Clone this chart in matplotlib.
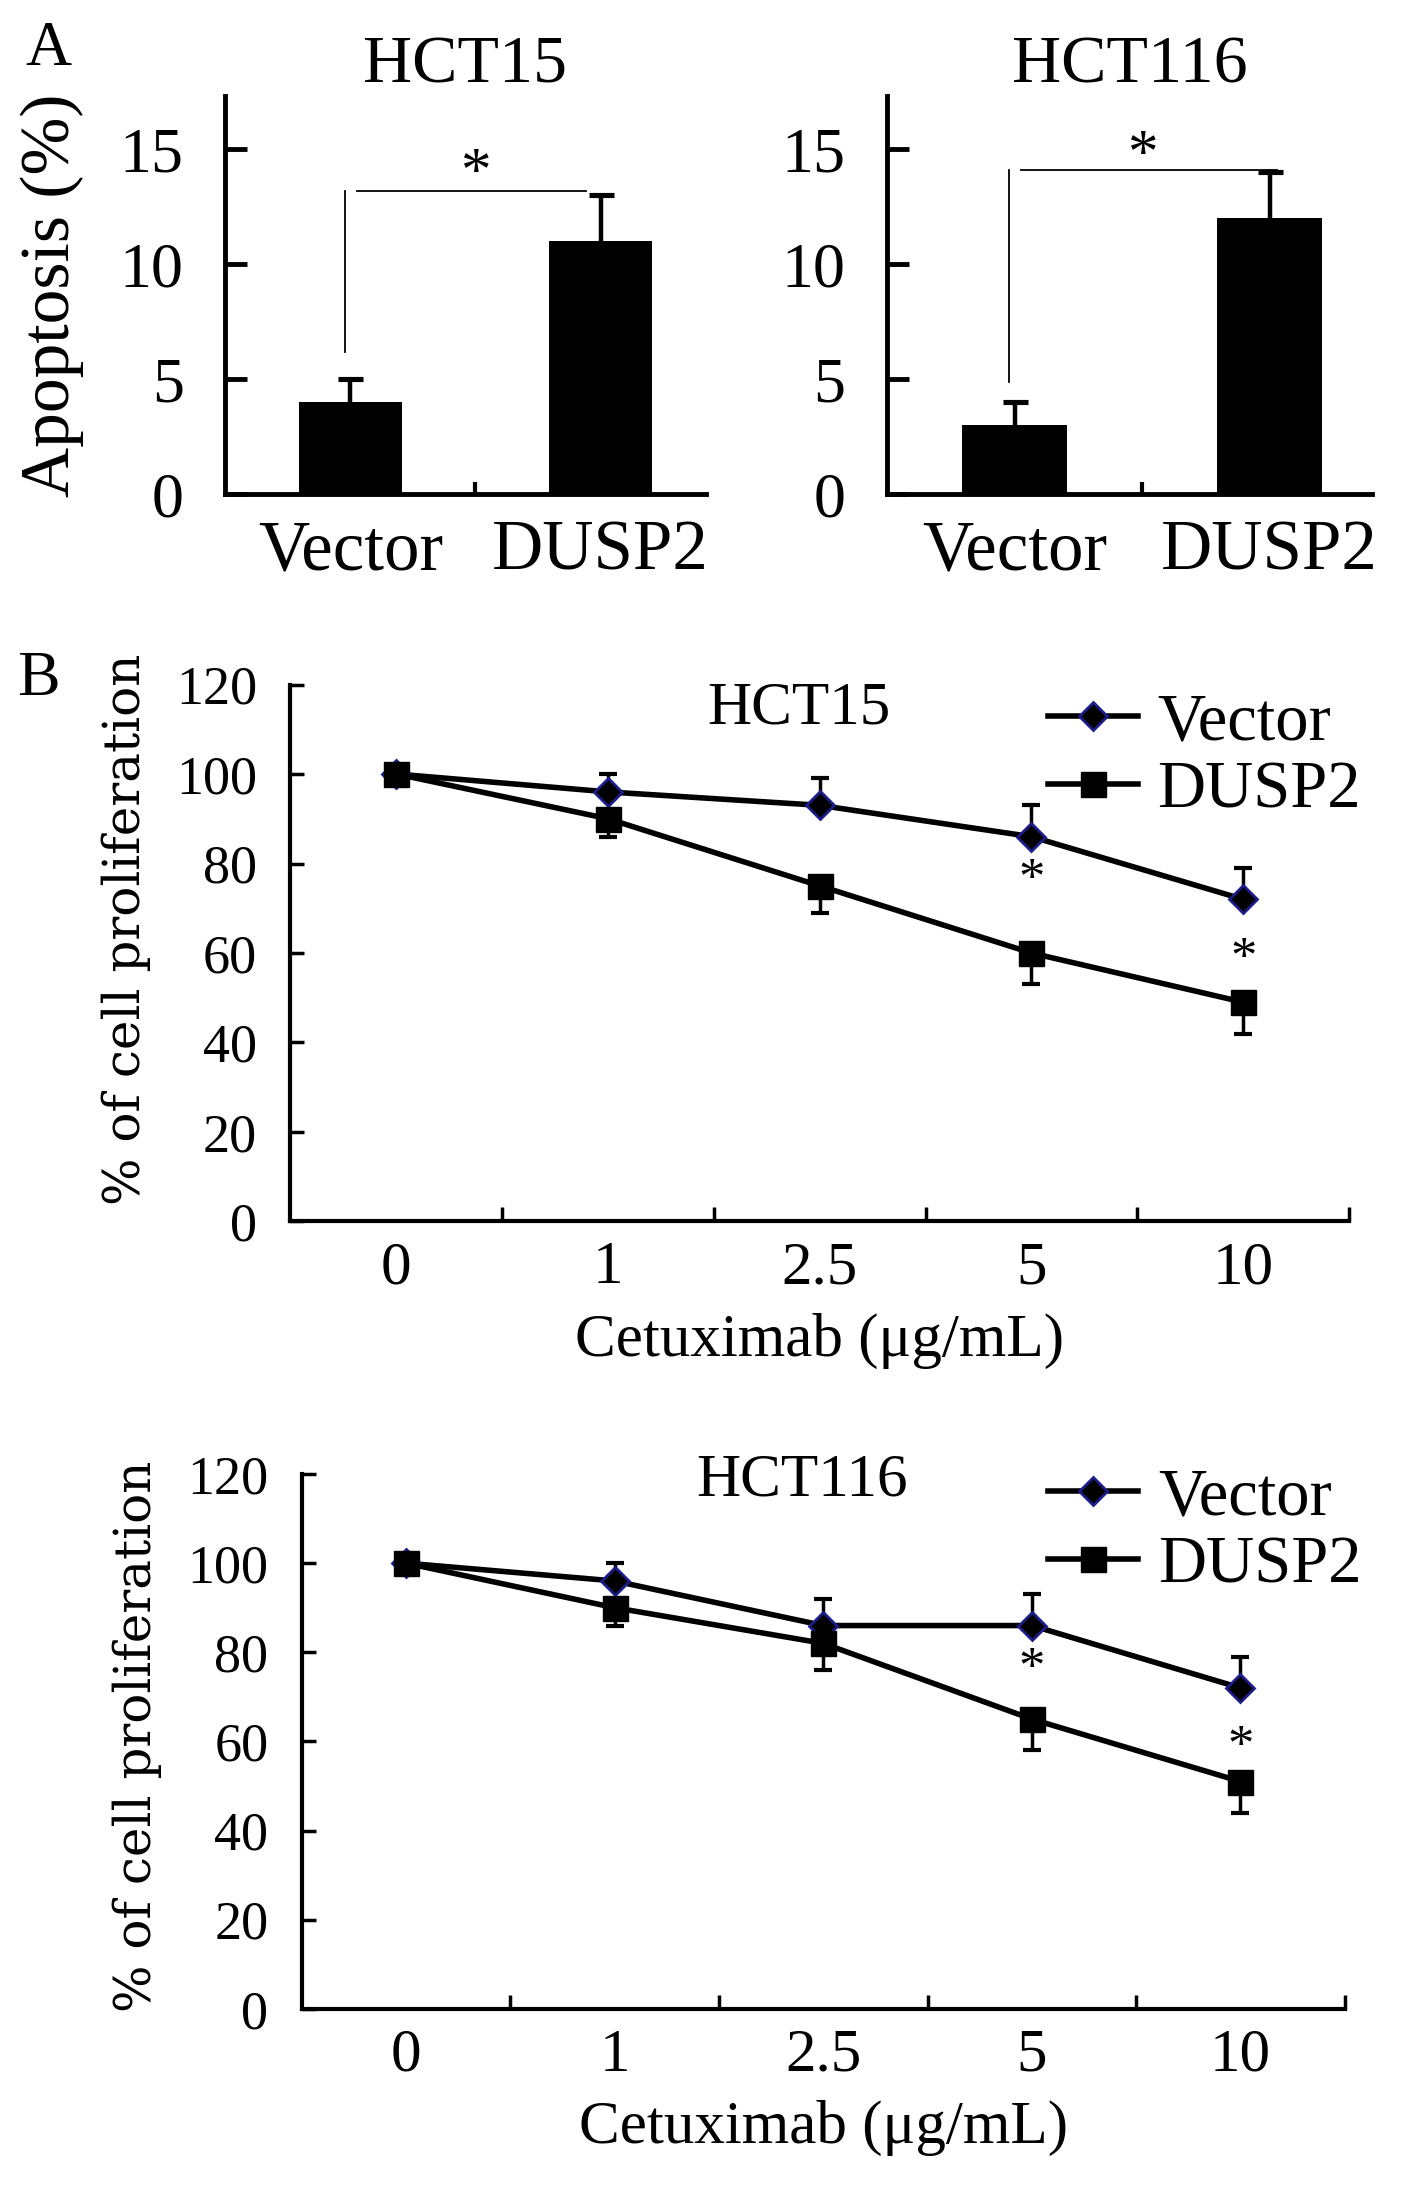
import numpy as np
import matplotlib.pyplot as plt

plt.rcParams['font.family'] = ['Liberation Serif', 'DejaVu Serif']

# panel A: apoptosis (%)
groups = ['Vector', 'DUSP2']
apop_hct15 = [4, 11]
apop_hct15_err = [1, 2]
apop_hct116 = [3, 12]
apop_hct116_err = [1, 2]

# panel B: % of cell proliferation
doses = ['0', '1', '2.5', '5', '10']
hct15_vec = [100, 96, 93, 86, 72]
hct15_vec_err = [0, 4, 6, 7, 7]
hct15_dusp = [100, 90, 75, 60, 49]
hct15_dusp_err = [0, 4, 6, 7, 7]
hct116_vec = [100, 96, 86, 86, 72]
hct116_vec_err = [0, 4, 6, 7, 7]
hct116_dusp = [100, 90, 82, 65, 51]
hct116_dusp_err = [0, 4, 6, 7, 7]

W, H = 1417, 2187
fig = plt.figure(figsize=(W / 100, H / 100), dpi=100)


def one_sided_err(ax, x, vals, errs, sign, lw, capw, zorder=1):
    # error bar going only up (sign=1) or only down (sign=-1)
    vals = np.asarray(vals, dtype=float)
    errs = np.asarray(errs, dtype=float)
    ends = vals + sign * errs
    keep = errs > 0
    ax.vlines(x[keep], vals[keep], ends[keep], color='black', lw=lw, zorder=zorder)
    ax.plot(x[keep], ends[keep], linestyle='none', marker='_', color='black',
            markersize=capw, markeredgewidth=lw + 0.5, zorder=zorder)


def bar_panel(rect, title, vals, errs, bracket, star, xmax):
    ax = fig.add_axes(rect)
    x = np.arange(len(vals))
    ax.bar(x, vals, width=0.41, color='black', zorder=2)
    one_sided_err(ax, x, vals, errs, 1, 3.2, 18)
    # significance bracket
    xv, y0, y1, x2 = bracket
    ax.plot([xv, xv], [y0, y1], color='black', lw=1.3)
    ax.plot([xv + 0.045, x2], [y1, y1], color='black', lw=1.3)
    ax.text(star[0], star[1], '*', fontsize=44, ha='center', va='center')
    ax.set_xlim(-0.5, xmax)
    ax.set_ylim(0, 17.3)
    ax.set_yticks([0, 5, 10, 15])
    ax.set_xticks(x)
    ax.set_xticklabels(groups)
    ax.set_xticks([0.5], minor=True)
    ax.tick_params(axis='y', direction='in', length=16, width=3.5,
                   labelsize=46, pad=30)
    ax.tick_params(axis='x', which='major', length=0, labelsize=51, pad=18)
    ax.tick_params(axis='x', which='minor', direction='in', length=9, width=3)
    for s in ['top', 'right']:
        ax.spines[s].set_visible(False)
    for s in ['left', 'bottom']:
        ax.spines[s].set_linewidth(3.5)
    ax.set_title(title, fontsize=49, pad=0)
    return ax


def line_panel(rect, title, vec, vec_err, dusp, dusp_err, stars, title_y,
               leg_y, ylab_y):
    ax = fig.add_axes(rect)
    x = np.arange(len(doses))
    one_sided_err(ax, x, vec, vec_err, 1, 2.5, 13)
    one_sided_err(ax, x, dusp, dusp_err, -1, 2.5, 13)
    ax.plot(x, vec, color='black', lw=4, marker='D', markersize=14,
            markerfacecolor='black', markeredgecolor='#1c1c8a',
            markeredgewidth=2, label='Vector', zorder=3)
    ax.plot(x, dusp, color='black', lw=4, marker='s', markersize=18,
            markerfacecolor='black', markeredgecolor='black', label='DUSP2',
            zorder=3)
    for sx, sy in stars:
        ax.text(sx, sy, '*', fontsize=38, ha='center', va='center')
    ax.text(1.9, title_y, title, fontsize=44, ha='center', va='center')
    ax.set_xlim(-0.5, 4.5)
    ax.set_ylim(0, 120)
    ax.set_yticks(np.arange(0, 121, 20))
    ax.set_xticks(x)
    ax.set_xticklabels(doses)
    ax.set_xticks(np.arange(0.5, 4.6, 1), minor=True)
    ax.tick_params(axis='y', direction='in', length=10, width=2.5,
                   labelsize=39, pad=24)
    ax.tick_params(axis='x', which='major', length=0, labelsize=44, pad=14)
    ax.tick_params(axis='x', which='minor', direction='in', length=10, width=2.5)
    for s in ['top', 'right']:
        ax.spines[s].set_visible(False)
    for s in ['left', 'bottom']:
        ax.spines[s].set_linewidth(3)
    ax.set_xlabel('Cetuximab (\u03bcg/mL)', fontsize=44, labelpad=12)
    ax.set_ylabel('% of cell proliferation', fontsize=36, labelpad=18,
                  family=['DejaVu Serif'])
    ax.yaxis.label.set_y(ylab_y)
    ax.legend(loc='upper left', bbox_to_anchor=(0.69, leg_y), frameon=False,
              fontsize=48, handlelength=1.35, handletextpad=0.3,
              labelspacing=0.1, borderaxespad=0)
    return ax


ax1 = bar_panel([0.159, 0.774, 0.339, 0.182], 'HCT15', apop_hct15,
                apop_hct15_err, (-0.02, 6.2, 13.2, 0.94), (0.5, 13.9), 1.42)
ax1.set_ylabel('Apoptosis (%)', fontsize=50, labelpad=26)
ax2 = bar_panel([0.626, 0.774, 0.342, 0.182], 'HCT116', apop_hct116,
                apop_hct116_err, (-0.02, 4.9, 14.1, 1.03), (0.5, 14.7), 1.40)

line_panel([0.205, 0.4415, 0.747, 0.2455], 'HCT15', hct15_vec, hct15_vec_err,
           hct15_dusp, hct15_dusp_err, [(3, 76), (4, 58.5)], 114.5, 1.035,
           0.545)
line_panel([0.213, 0.0815, 0.736, 0.2445], 'HCT116', hct116_vec,
           hct116_vec_err, hct116_dusp, hct116_dusp_err, [(3, 76), (4, 58.5)],
           118.5, 1.062, 0.51)

fig.text(0.018, 0.977, 'A', fontsize=46, va='center')
fig.text(0.012, 0.689, 'B', fontsize=46, va='center')

fig.savefig('out.png', dpi=100)
